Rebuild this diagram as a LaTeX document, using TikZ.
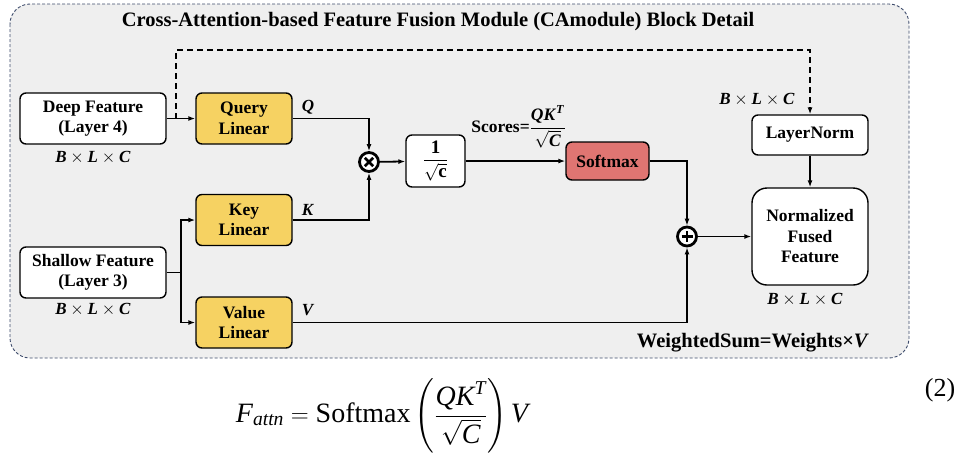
\documentclass[tikz,border=0pt]{standalone}
\usepackage{amsmath}
\usepackage{fontspec}
\setmainfont{Liberation Serif}
\usetikzlibrary{arrows.meta,calc}

\definecolor{panelbg}{HTML}{EFEFEF}
\definecolor{panelline}{HTML}{3E4C6C}
\definecolor{linfill}{HTML}{F6D262}
\definecolor{smfill}{HTML}{E07572}

\newcommand{\bi}[1]{\textbf{\textit{#1}}}
\newcommand{\dims}{$\bi{B}\times\bi{L}\times\bi{C}$}

\tikzset{
  box/.style={draw=black, line width=1.4pt, rounded corners=6pt, fill=white,
    align=center, inner sep=2pt, font=\fontsize{17.5}{20.5}\selectfont\bfseries},
  linbox/.style={box, fill=linfill, minimum width=96pt, minimum height=51pt},
  featbox/.style={box, minimum width=146pt, minimum height=51pt},
  opnode/.style={circle, draw=black, line width=2.8pt, fill=white,
    minimum size=19pt, inner sep=0pt},
  flow/.style={draw=black, line width=1.8pt, -{Latex[length=7pt,width=5pt]}},
  skip/.style={flow, dash pattern=on 6pt off 4pt},
  lbl/.style={font=\fontsize{17}{19}\selectfont, inner sep=0pt},
}

\begin{document}
\begin{tikzpicture}[x=1pt,y=-1pt]
\useasboundingbox (0,0) rectangle (968,467);

% module panel
\draw[panelline, fill=panelbg, line width=0.9pt, dash pattern=on 3pt off 2pt,
      rounded corners=20pt] (10,4) rectangle (909,358);
\node[font=\fontsize{20.5}{22}\selectfont\bfseries] (title) at (438,22)
  {Cross-Attention-based Feature Fusion Module (CAmodule) Block Detail};

% inputs
\node[featbox] (deep) at (93,118.5) {Deep Feature\\(Layer 4)};
\node[featbox] (shallow) at (93,272.5) {Shallow Feature\\(Layer 3)};
\node[lbl] (deepdim) at (93,158) {\dims};
\node[lbl] (shdim) at (93,310) {\dims};

% projections
\node[linbox] (query) at (244,118.5) {Query\\Linear};
\node[linbox] (key) at (244,220) {Key\\Linear};
\node[linbox] (value) at (244,322.5) {Value\\Linear};
\node[lbl] (qlab) at (308,107) {\bi{Q}};
\node[lbl] (klab) at (308,210) {\bi{K}};
\node[lbl] (vlab) at (308,310) {\bi{V}};

% attention path
\node[opnode] (mul) at (369,162) {};
\draw[line width=2.6pt] ($(mul)+(-4.2,-4.2)$) -- ($(mul)+(4.2,4.2)$)
                        ($(mul)+(-4.2,4.2)$) -- ($(mul)+(4.2,-4.2)$);
\node[box, font=\fontsize{19}{21}\selectfont\bfseries,
      minimum width=59pt, minimum height=52pt] (scale) at (435.5,161)
  {$\dfrac{\textbf{1}}{\sqrt{\textbf{c}}}$};
\node[box, fill=smfill, minimum width=83pt, minimum height=38pt] (softmax)
  at (607.5,161) {Softmax};
\node[lbl, font=\fontsize{17.5}{19}\selectfont\bfseries, anchor=east] (scores)
  at (566,127) {Scores=$\dfrac{\bi{QK}^{\bi{T}}}{\sqrt{\bi{C}}}$};

\node[opnode] (add) at (687,236.5) {};
\draw[line width=2.6pt] ($(add)+(-5.5,0)$) -- ($(add)+(5.5,0)$)
                        ($(add)+(0,-5.5)$) -- ($(add)+(0,5.5)$);

% output
\node[box, minimum width=116pt, minimum height=40pt] (lnorm) at (810,135) {LayerNorm};
\node[box, rounded corners=15pt, minimum width=116pt, minimum height=97pt]
  (fused) at (810,236.5) {Normalized\\Fused\\Feature};
\node[lbl] (lndim) at (757,100) {\dims};
\node[lbl] (fudim) at (805,300) {\dims};
\node[lbl, font=\fontsize{20.5}{22}\selectfont\bfseries] (wsum) at (753,343)
  {WeightedSum=Weights×\bi{V}};

% connectors
\draw[flow] (deep) -- (query);
\draw[skip] ([xshift=9pt]deep.east) -- ++(0,-68.5) -| (lnorm.north);
\draw[line width=1.8pt] (shallow.east) -- ++(14,0) coordinate (split);
\draw[flow] (split) |- (key.west);
\draw[flow] (split) |- (value.west);
\draw[flow] (query.east) -| (mul.north);
\draw[flow] (key.east) -| (mul.south);
\draw[flow] (mul) -- (scale);
\draw[flow] (scale) -- (softmax);
\draw[flow] (softmax.east) -| (add.north);
\draw[flow] (value.east) -| (add.south);
\draw[flow] (add) -- (fused);
\draw[flow] (lnorm) -- (fused);

% attention formula
\node[font=\fontsize{28}{30}\selectfont] (eq) at (382,416)
  {$\textit{F}_{\textit{attn}} = \text{Softmax}\left(\dfrac{\textit{QK}^{\textit{T}}}{\sqrt{\textit{C}}}\right)\textit{V}$};
\node[font=\fontsize{26}{28}\selectfont] (eqno) at (940,390) {(2)};
\end{tikzpicture}
\end{document}
